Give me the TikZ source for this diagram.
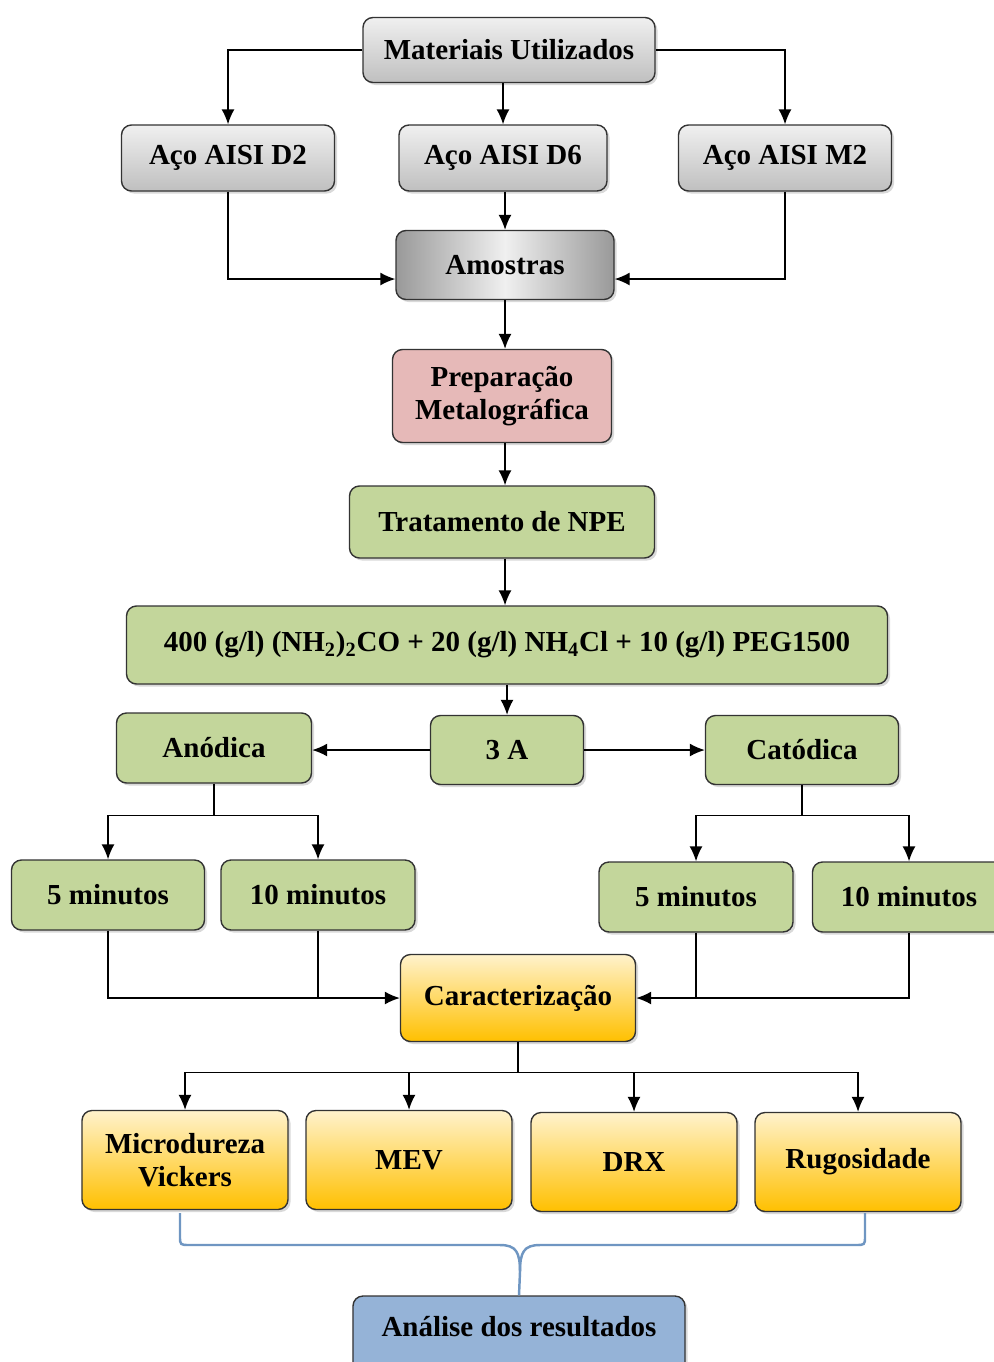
\documentclass[tikz,border=0pt]{standalone}
\usepackage{fontspec}
\setmainfont{Liberation Serif}
\usetikzlibrary{arrows.meta,shadows,positioning}

\definecolor{verdeNPE}{HTML}{C3D69B}
\definecolor{rosaPrep}{HTML}{E6B9B8}
\definecolor{azulRes}{HTML}{95B3D7}
\definecolor{laranjaClaro}{HTML}{FFF2CC}
\definecolor{laranjaEsc}{HTML}{FFC000}
\definecolor{azulChave}{HTML}{6F96C2}

\tikzset{
	caixa/.style={draw=black!80, rounded corners=2mm, line width=0.8pt, align=center, inner sep=0pt,
		font=\fontsize{16.5}{19}\selectfont\bfseries,
		drop shadow={opacity=0.3, shadow xshift=0.5mm, shadow yshift=-0.5mm}},
	cinza/.style={caixa, top color=gray!12, bottom color=gray!50},
	verde/.style={caixa, fill=verdeNPE},
	laranja/.style={caixa, top color=laranjaClaro, bottom color=laranjaEsc},
	seta/.style={line width=0.8pt, -{Latex[length=3mm,width=2.6mm]}},
	linha/.style={line width=0.8pt},
	chave/.style={line width=1.4pt, color=azulChave}
}

\begin{document}
\begin{tikzpicture}[x=0.2mm, y=-0.2mm]
		\useasboundingbox (0,0) rectangle (994,1362);
		
		% Materiais
		\node[cinza, minimum width=58.4mm, minimum height=13mm] (mat) at (509,50) {Materiais Utilizados};
		\node[cinza, minimum width=42.6mm, minimum height=13.2mm] (d2) at (228,158) {Aço AISI D2};
		\node[cinza, minimum width=41.6mm, minimum height=13.2mm] (d6) at (503,158) {Aço AISI D6};
		\node[cinza, minimum width=42.6mm, minimum height=13.2mm] (m2) at (785,158) {Aço AISI M2};
		\node[caixa, minimum width=43.6mm, minimum height=13.8mm, shading angle=60,
			left color=gray!80, right color=gray!80, middle color=gray!12] (amostras) at (505,265) {Amostras};
		
		% Preparacao e tratamento
		\node[caixa, fill=rosaPrep, minimum width=43.8mm, minimum height=18.6mm] (prep) at (502,396) {Preparação\\Metalográfica};
		\node[verde, minimum width=61mm, minimum height=14.4mm] (npe) at (502,522) {Tratamento de NPE};
		\node[verde, minimum width=152.2mm, minimum height=15.6mm] (sol) at (507,645)
			{400 (g/l) (NH\textsubscript{2})\textsubscript{2}CO + 20 (g/l) NH\textsubscript{4}Cl + 10 (g/l) PEG1500};
		\node[verde, minimum width=30.6mm, minimum height=13.8mm] (corr) at (507,750) {3 A};
		\node[verde, minimum width=39mm, minimum height=14mm] (anod) at (214,748) {Anódica};
		\node[verde, minimum width=38.6mm, minimum height=13.8mm] (catod) at (802,750) {Catódica};
		
		% Tempos
		\node[verde, minimum width=38.6mm, minimum height=14mm] (an5) at (108,895) {5 minutos};
		\node[verde, minimum width=38.8mm, minimum height=14mm] (an10) at (318,895) {10 minutos};
		\node[verde, minimum width=38.8mm, minimum height=14mm] (ca5) at (696,897) {5 minutos};
		\node[verde, minimum width=38.6mm, minimum height=14mm] (ca10) at (909,897) {10 minutos};
		
		% Caracterizacao
		\node[laranja, minimum width=47mm, minimum height=17.4mm] (carac) at (518,998) {Caracterização};
		\node[laranja, minimum width=41.2mm, minimum height=19.8mm] (micro) at (185,1160) {Microdureza\\Vickers};
		\node[laranja, minimum width=41.2mm, minimum height=19.8mm] (mev) at (409,1160) {MEV};
		\node[laranja, minimum width=41.2mm, minimum height=19.8mm] (drx) at (634,1162) {DRX};
		\node[laranja, minimum width=41.2mm, minimum height=19.8mm] (rugo) at (858,1162) {Rugosidade};
		\node[caixa, fill=azulRes, minimum width=66.4mm, minimum height=16mm, text depth=4mm] (analise) at (519,1336) {Análise dos resultados};
		
		% Ligacoes superiores
		\draw[seta] (mat.west) -| (d2.north);
		\draw[seta] (d6.north |- mat.south) -- (d6.north);
		\draw[seta] (mat.east) -| (m2.north);
		\draw[seta] (d2.south) |- ([yshift=-2.8mm]amostras.west);
		\draw[seta] (d6.south -| amostras.north) -- (amostras.north);
		\draw[seta] (m2.south) |- ([yshift=-2.8mm]amostras.east);
		\draw[seta] (amostras.south) -- (amostras.south |- prep.north);
		\draw[seta] (amostras.south |- prep.south) -- (amostras.south |- npe.north);
		\draw[seta] (amostras.south |- npe.south) -- (amostras.south |- sol.north);
		\draw[seta] (corr.north |- sol.south) -- (corr.north);
		\draw[seta] (corr.west) -- (anod.east |- corr.west);
		\draw[seta] (corr.east) -- (catod.west);
		
		% Ramos anodico e catodico
		\draw[linha] (anod.south) -- ++(0,32) coordinate (ra);
		\draw[seta] (ra) -| (an5.north);
		\draw[seta] (ra) -| (an10.north);
		\draw[linha] (catod.south) -- ++(0,30) coordinate (rk);
		\draw[seta] (rk) -| (ca5.north);
		\draw[seta] (rk) -| (ca10.north);
		
		% Para caracterizacao
		\draw[seta] (an5.south) |- (carac.west);
		\draw[linha] (an10.south) -- (an10.south |- carac.west);
		\draw[seta] (ca10.south) |- (carac.east);
		\draw[linha] (ca5.south) -- (ca5.south |- carac.east);
		\draw[linha] (carac.south) -- ++(0,30) coordinate (rc);
		\foreach \n in {micro,mev,drx,rugo}
			\draw[seta] (rc) -| (\n.north);
		
		% Chave
		\coordinate (bico) at (520,1272);
		\draw[chave] (180,1213) -- (180,1236) .. controls (180,1245) .. (190,1245) -- (500,1245)
			.. controls (516,1245) and (520,1252) .. (bico) -- (analise.north);
		\draw[chave] (865,1213) -- (865,1236) .. controls (865,1245) .. (855,1245) -- (540,1245)
			.. controls (524,1245) and (520,1252) .. (bico);
		
\end{tikzpicture}
\end{document}
